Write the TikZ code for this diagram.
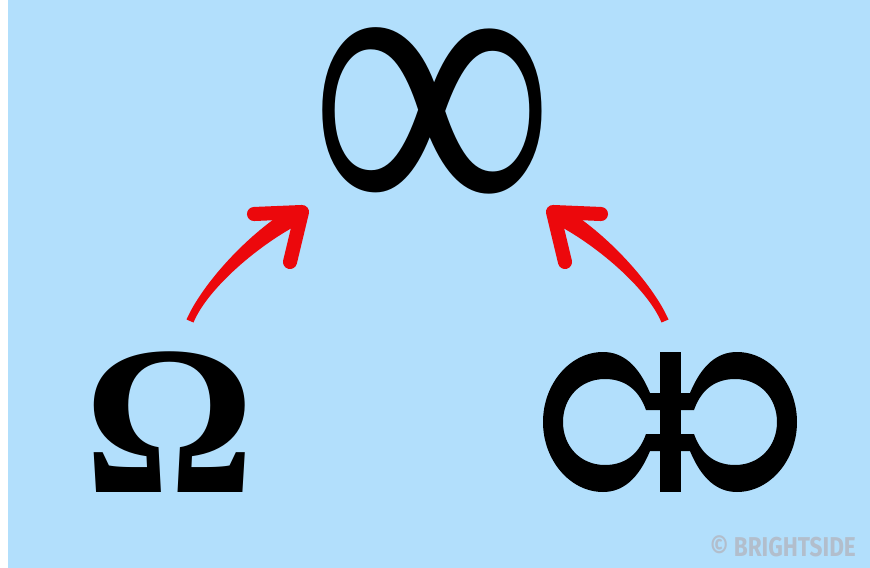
\documentclass[tikz,border=0pt]{standalone}
\usepackage{fontspec}
\setmainfont{Liberation Serif}
\newfontfamily\marksans{Fira Sans}
\usetikzlibrary{positioning, calc}
\definecolor{skyback}{RGB}{178,223,252}
\definecolor{arrowred}{RGB}{236,8,12}
\definecolor{markgrey}{RGB}{178,190,204}
\newcommand{\bigglyph}[2]{{\fontsize{#1}{#1}\selectfont\bfseries #2}}
% one half of the split loop, drawn round (0,0)
\newcommand{\halfknot}{%
    \fill[knot] (-10,-29) -- (-20,-29)
        .. controls (-32,-58) and (-48,-70) .. (-67,-70)
        .. controls (-100,-70) and (-127,-38) .. (-127,0)
        .. controls (-127,38) and (-100,70) .. (-67,70)
        .. controls (-48,70) and (-32,58) .. (-20,29)
        -- (-10,29) -- (-10,12) -- (-24,12)
        .. controls (-32,35) and (-48,43) .. (-65,43)
        .. controls (-90,43) and (-107,24) .. (-107,0)
        .. controls (-107,-24) and (-90,-43) .. (-65,-43)
        .. controls (-48,-43) and (-32,-35) .. (-24,-12)
        -- (-10,-12) -- cycle;
}

\begin{document}
\begin{tikzpicture}[
    x=0.02cm, y=-0.02cm,
    glyph/.style={inner sep=0pt, text=black},
    knot/.style={fill=black},
    shaft/.style={fill=arrowred},
    barb/.style={draw=arrowred, line width=8pt, line cap=round, line join=round},
    brandmark/.style={inner sep=0pt, text=markgrey, font=\marksans\bfseries\fontsize{15.5pt}{16pt}\selectfont, xscale=0.83}
]

    % --- background ---
    \useasboundingbox (0,0) rectangle (870,568);
    \fill[white] (0,0) rectangle (870,568);
    \fill[skyback] (8,0) rectangle (870,568);

    % --- symbols ---
    \node[glyph] (inf) at (432.5,132.5) {\scalebox{1}[1.31]{\bigglyph{190pt}{∞}}};
    \node[glyph] (omega) at (170,422.5) {\bigglyph{121pt}{Ω}};
    \coordinate (knot) at (670,422);

    \begin{scope}[shift={(knot)}]
        \halfknot
        \fill[knot] (-10.5,-70) rectangle (10.5,70);
    \end{scope}
    \begin{scope}[shift={(knot)}, xscale=-1]
        \halfknot
    \end{scope}

    % --- red arrows ---
    \coordinate (ltail) at (190,321);
    \coordinate (ltip)  at (302,212);
    \coordinate (rtail) at (665,321);
    \coordinate (rtip)  at (553,212);

    \fill[shaft] ($(ltail)+(-3.5,-1.5)$) .. controls +(16,-36) and +(-45,26) .. ($(ltip)+(-8,-6)$)
        -- ($(ltip)+(3,9)$) .. controls +(-45,22) and +(14,-34) .. ($(ltail)+(3.5,1.5)$) -- cycle;
    \draw[barb] ($(ltip)+(-48,2)$) -- (ltip) -- ($(ltip)+(-12,50)$);

    \fill[shaft] ($(rtail)+(3.5,-1.5)$) .. controls +(-16,-36) and +(45,26) .. ($(rtip)+(8,-6)$)
        -- ($(rtip)+(-3,9)$) .. controls +(45,22) and +(-14,-34) .. ($(rtail)+(-3.5,1.5)$) -- cycle;
    \draw[barb] ($(rtip)+(48,2)$) -- (rtip) -- ($(rtip)+(12,50)$);

    % --- watermark ---
    \node[brandmark] (brand) at (783,546) {© BRIGHTSIDE};

\end{tikzpicture}
\end{document}
